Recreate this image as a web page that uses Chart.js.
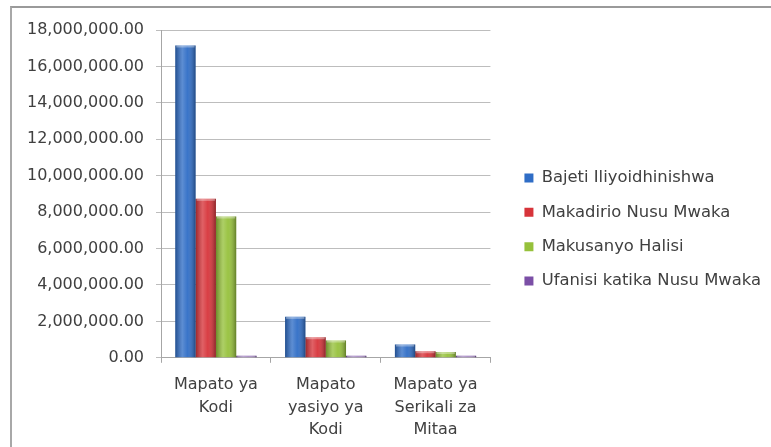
<!DOCTYPE html>
<html>
<head>
<meta charset="utf-8">
<script src="https://cdn.jsdelivr.net/npm/chart.js@4"></script>
<style>
  body { margin: 0; background: #fff; }
  .frame {
    position: absolute; left: 10px; top: 6px;
    width: 759px; height: 439px;
    border-left: 2px solid #a8a8a8; border-top: 2px solid #9a9a9a;
  }
  canvas { display: block; }
</style>
</head>
<body>
<div class="frame"><canvas id="myChart" width="759" height="439"></canvas></div>
<script>
var categories = [["Mapato ya", "Kodi"], ["Mapato", "yasiyo ya", "Kodi"], ["Mapato ya", "Serikali za", "Mitaa"]];
var seriesNames = ["Bajeti Iliyoidhinishwa", "Makadirio Nusu Mwaka", "Makusanyo Halisi", "Ufanisi katika Nusu Mwaka"];
var bajeti = [17150000, 2250000, 730000];
var makadirio = [8730000, 1130000, 360000];
var makusanyo = [7760000, 950000, 320000];
var ufanisi = [89, 84, 89];
var yTicks = [0, 2000000, 4000000, 6000000, 8000000, 10000000, 12000000, 14000000, 16000000, 18000000];
var barColors = ["#2f6dc6", "#d7343a", "#96c13b", "#7b4fa6"];

var font = { family: "DejaVu Sans", size: 16 };

// shading over each bar so they look a bit like the excel 3d columns
var shade = {
  id: "shade",
  afterDatasetsDraw(chart) {
    var ctx = chart.ctx;
    chart.data.datasets.forEach((ds, i) => {
      chart.getDatasetMeta(i).data.forEach((bar) => {
        var left = bar.x - bar.width / 2;
        var h = bar.base - bar.y;
        if (h <= 0) return;
        var g = ctx.createLinearGradient(left, 0, left + bar.width, 0);
        g.addColorStop(0, "rgba(0,0,0,0.28)");
        g.addColorStop(0.35, "rgba(255,255,255,0.22)");
        g.addColorStop(0.6, "rgba(255,255,255,0.05)");
        g.addColorStop(1, "rgba(0,0,0,0.35)");
        ctx.save();
        ctx.fillStyle = g;
        ctx.fillRect(left, bar.y, bar.width, h);
        ctx.fillStyle = "rgba(255,255,255,0.35)";
        ctx.fillRect(left + 1, bar.y, bar.width - 2, Math.min(2, h));
        ctx.restore();
      });
    });
  }
};

// legend sits a little higher than chart.js centres it
var legendShift = {
  id: "legendShift",
  afterLayout(chart) {
    chart.legend.top -= 7;
    chart.legend.bottom -= 7;
  }
};

var datasets = [bajeti, makadirio, makusanyo, ufanisi].map((vals, i) => ({
  label: seriesNames[i],
  data: vals,
  backgroundColor: barColors[i],
  borderWidth: 0,
  minBarLength: i == 3 ? 2 : 0
}));

new Chart(document.getElementById("myChart"), {
  type: "bar",
  data: { labels: categories, datasets: datasets },
  options: {
    responsive: false,
    animation: false,
    layout: { padding: { left: 0, right: 0, top: 22, bottom: 4 } },
    datasets: { bar: { categoryPercentage: 0.74, barPercentage: 1.0 } },
    plugins: {
      legend: {
        position: "right",
        maxWidth: 300,
        labels: { boxWidth: 9, boxHeight: 9, padding: 18, color: "#404040", font: { family: "DejaVu Sans", size: 16.4 } }
      },
      tooltip: { enabled: false }
    },
    scales: {
      x: {
        afterFit: (s) => { s.height -= 9; },
        grid: { drawOnChartArea: false, tickLength: 5, color: "#a6a6a6" },
        border: { color: "#a6a6a6" },
        ticks: { color: "#404040", font: Object.assign({ lineHeight: 1.4 }, font), padding: 11, maxRotation: 0 }
      },
      y: {
        min: 0,
        max: 18000000,
        afterFit: (s) => { s.width = 149; },
        afterBuildTicks: (s) => { s.ticks = yTicks.map((v) => ({ value: v })); },
        grid: { color: "#bdbdbd", tickLength: 5 },
        border: { color: "#a6a6a6" },
        ticks: {
          color: "#404040",
          font: font,
          padding: 12,
          callback: (v) => v.toLocaleString("en-US", { minimumFractionDigits: 2, maximumFractionDigits: 2 })
        }
      },
      gap: {
        position: "right",
        afterFit: (s) => { s.width = 16; },
        grid: { display: false },
        border: { display: false },
        ticks: { display: false }
      }
    }
  },
  plugins: [shade, legendShift]
});
</script>
</body>
</html>
